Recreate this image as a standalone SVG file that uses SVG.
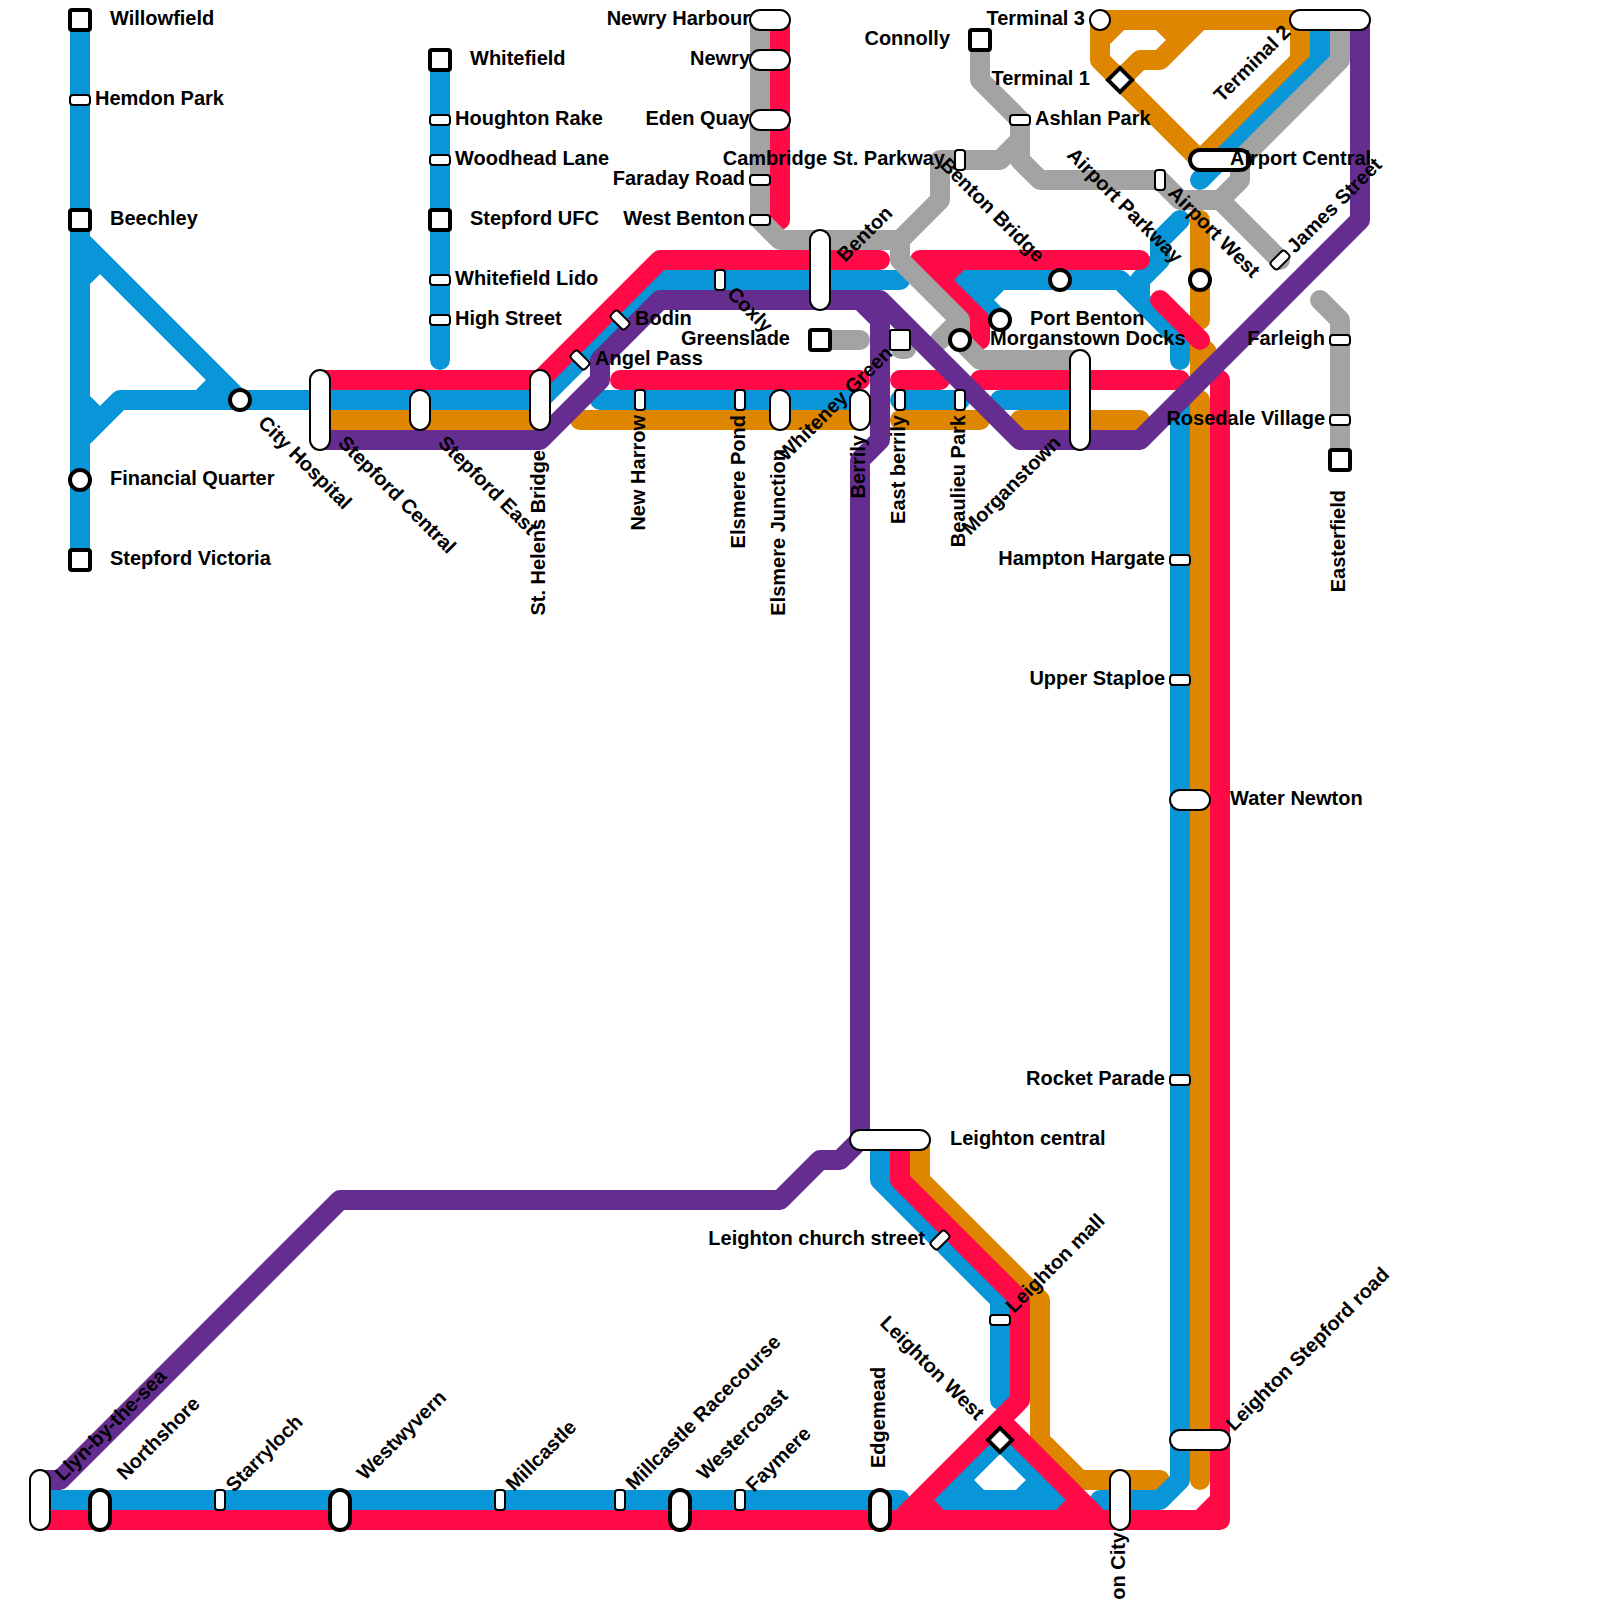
<svg xmlns="http://www.w3.org/2000/svg" width="1600" height="1600" viewBox="0 0 1600 1600">
<style>
.l{fill:none;stroke-width:20;stroke-linecap:round;stroke-linejoin:round}
.o{stroke:#de8600}.b{stroke:#0996d8}.r{stroke:#ff0a47}.g{stroke:#a3a3a3}.p{stroke:#662d91}
.s{fill:#fff;stroke:#000;stroke-width:2}
.t{fill:#fff;stroke:#000;stroke-width:4}
text{font-family:"Liberation Sans",Arial,sans-serif;font-weight:bold;font-size:20px;fill:#000}
.e{text-anchor:end}
</style>
<rect width="1600" height="1600" fill="#fff"/>
<g id="connectors">
<path class="l o" d="M320,420H540M580,420H860M900,420H980M1020,420H1140M1200,400V1480M1200,220V320M1200,340V380M1196,341L1207,352M920,1140V1180L1040,1300V1440L1080,1480H1160M1300,20H1100V60L1200,160L1300,60V20M1100,40L1120,20M1160,20L1180,40M1120,80L1140,60H1160L1200,20"/>
<path class="l b" d="M80,20V560M80,240L240,400H540L660,280H900M80,440L120,400H240M80,280L100,260M80,400L100,420M200,400L220,380M440,60V360M600,400H860M900,400H960M1000,400H1080M960,280H1120L1180,340V360M960,280L1000,320M1000,280L980,300M1180,220L1160,240V260L1140,280V300M1200,180L1320,60V20M1180,400V1480L1160,1500H1100M40,1500H900M880,1140V1180L1000,1300V1400M1000,1440L940,1500H1060L1000,1440M960,1480L980,1500M1040,1480L1020,1500"/>
<path class="l r" d="M320,380H540L660,260H880M780,20V220M620,380H860M900,380H940M980,380H1180M920,260H1140M920,260L980,320V340M960,260L940,280M1160,300L1200,340M1220,380V1520H40M1220,1500L1200,1520M900,1140V1180L1020,1300V1400L900,1520M1000,1420L1100,1520M920,1500L940,1520M1080,1500L1060,1520"/>
<path class="l g" d="M760,20V220L780,240H900L940,200V160H1000L1020,140M980,40V80L1020,120V160L1040,180H1160L1180,200H1220L1240,180V160L1340,60V20M1220,200L1280,260M900,240V260L960,320V340L980,360H1080M960,320L940,340M820,340H860M901,349H906M1320,300L1340,320V460"/>
<path class="l p" d="M320,440H540L600,380V360L660,300H880L1020,440H1140L1360,220V20M860,300L880,320V440L860,460V1140L840,1160H820L780,1200H340L60,1480H40"/>
</g>
<g id="willowfield"><rect class="t" x="70" y="10" width="20" height="20" rx="2"/><text x="110" y="25">Willowfield</text></g>
<g id="hemdon-park"><rect class="s" x="70" y="95" width="20" height="10" rx="3"/><text x="95" y="105">Hemdon Park</text></g>
<g id="beechley"><rect class="t" x="70" y="210" width="20" height="20" rx="2"/><text x="110" y="225">Beechley</text></g>
<g id="financial-quarter"><circle class="t" cx="80" cy="480" r="10"/><text x="110" y="485">Financial Quarter</text></g>
<g id="stepford-victoria"><rect class="t" x="70" y="550" width="20" height="20" rx="2"/><text x="110" y="565">Stepford Victoria</text></g>
<g id="whitefield"><rect class="t" x="430" y="50" width="20" height="20" rx="2"/><text x="470" y="65">Whitefield</text></g>
<g id="houghton-rake"><rect class="s" x="430" y="115" width="20" height="10" rx="3"/><text x="455" y="125">Houghton Rake</text></g>
<g id="woodhead-lane"><rect class="s" x="430" y="155" width="20" height="10" rx="3"/><text x="455" y="165">Woodhead Lane</text></g>
<g id="stepford-ufc"><rect class="t" x="430" y="210" width="20" height="20" rx="2"/><text x="470" y="225">Stepford UFC</text></g>
<g id="whitefield-lido"><rect class="s" x="430" y="275" width="20" height="10" rx="3"/><text x="455" y="285">Whitefield Lido</text></g>
<g id="high-street"><rect class="s" x="430" y="315" width="20" height="10" rx="3"/><text x="455" y="325">High Street</text></g>
<g id="city-hospital"><circle class="t" cx="240" cy="400" r="10"/><text transform="translate(257,424) rotate(45)">City Hospital</text></g>
<g id="stepford-central"><rect class="s" x="310" y="370" width="20" height="80" rx="10"/><text transform="translate(337,444) rotate(45)">Stepford Central</text></g>
<g id="stepford-east"><rect class="s" x="410" y="390" width="20" height="40" rx="10"/><text transform="translate(437,444) rotate(45)">Stepford East</text></g>
<g id="st-helens-bridge"><rect class="s" x="530" y="370" width="20" height="60" rx="10"/><text class="e" transform="translate(545,450) rotate(-90)">St. Helens Bridge</text></g>
<g id="angel-pass"><rect class="s" x="-10" y="-5" width="20" height="10" rx="3" transform="translate(580,360) rotate(45)"/><text x="595" y="365">Angel Pass</text></g>
<g id="bodin"><rect class="s" x="-10" y="-5" width="20" height="10" rx="3" transform="translate(620,320) rotate(45)"/><text x="635" y="325">Bodin</text></g>
<g id="new-harrow"><rect class="s" x="635" y="390" width="10" height="20" rx="3"/><text class="e" transform="translate(645,415) rotate(-90)">New Harrow</text></g>
<g id="coxly"><rect class="s" x="715" y="270" width="10" height="20" rx="3"/><text transform="translate(726,295) rotate(45)">Coxly</text></g>
<g id="elsmere-pond"><rect class="s" x="735" y="390" width="10" height="20" rx="3"/><text class="e" transform="translate(745,415) rotate(-90)">Elsmere Pond</text></g>
<g id="elsmere-junction"><rect class="s" x="770" y="390" width="20" height="40" rx="10"/><text class="e" transform="translate(785,449) rotate(-90)">Elsmere Junction</text></g>
<g id="benton"><rect class="s" x="810" y="230" width="20" height="80" rx="10"/><text transform="translate(845,263) rotate(-45)">Benton</text></g>
<g id="greenslade"><rect class="t" x="810" y="330" width="20" height="20" rx="2"/><text class="e" x="790" y="345">Greenslade</text></g>
<g id="berrily"><rect class="s" x="850" y="390" width="20" height="40" rx="10"/><text class="e" transform="translate(865,435) rotate(-90)">Berrily</text></g>
<g id="whiteney-green"><rect class="s" x="890" y="330" width="20" height="20" rx="2"/><text transform="translate(786,462) rotate(-45)">Whiteney Green</text></g>
<g id="east-berrily"><rect class="s" x="895" y="390" width="10" height="20" rx="3"/><text class="e" transform="translate(905,415) rotate(-90)">East berrily</text></g>
<g id="beaulieu-park"><rect class="s" x="955" y="390" width="10" height="20" rx="3"/><text class="e" transform="translate(965,415) rotate(-90)">Beaulieu Park</text></g>
<g id="morganstown-docks"><circle class="t" cx="960" cy="340" r="10"/><text x="990" y="345">Morganstown Docks</text></g>
<g id="port-benton"><circle class="t" cx="1000" cy="320" r="10"/><text x="1030" y="325">Port Benton</text></g>
<g id="benton-bridge"><circle class="t" cx="1060" cy="280" r="10"/><text transform="translate(939,166) rotate(45)">Benton Bridge</text></g>
<g id="morganstown"><rect class="s" x="1070" y="350" width="20" height="100" rx="10"/><text transform="translate(970,536) rotate(-45)">Morganstown</text></g>
<g id="newry-harbour"><rect class="s" x="750" y="10" width="40" height="20" rx="10"/><text class="e" x="750" y="25">Newry Harbour</text></g>
<g id="newry"><rect class="s" x="750" y="50" width="40" height="20" rx="10"/><text class="e" x="750" y="65">Newry</text></g>
<g id="eden-quay"><rect class="s" x="750" y="110" width="40" height="20" rx="10"/><text class="e" x="750" y="125">Eden Quay</text></g>
<g id="faraday-road"><rect class="s" x="750" y="175" width="20" height="10" rx="3"/><text class="e" x="745" y="185">Faraday Road</text></g>
<g id="west-benton"><rect class="s" x="750" y="215" width="20" height="10" rx="3"/><text class="e" x="745" y="225">West Benton</text></g>
<g id="connolly"><rect class="t" x="970" y="30" width="20" height="20" rx="2"/><text class="e" x="950" y="45">Connolly</text></g>
<g id="ashlan-park"><rect class="s" x="1010" y="115" width="20" height="10" rx="3"/><text x="1035" y="125">Ashlan Park</text></g>
<g id="cambridge-st-parkway"><rect class="s" x="955" y="150" width="10" height="20" rx="3"/><text class="e" x="945" y="165">Cambridge St. Parkway</text></g>
<g id="airport-parkway"><rect class="s" x="1155" y="170" width="10" height="20" rx="3"/><text transform="translate(1066,156) rotate(45)">Airport Parkway</text></g>
<g id="airport-west"><circle class="t" cx="1200" cy="280" r="10"/><text transform="translate(1167,194) rotate(45)">Airport West</text></g>
<g id="terminal-3"><circle class="s" cx="1100" cy="20" r="10"/><text class="e" x="1085" y="25">Terminal 3</text></g>
<g id="terminal-1"><rect class="t" x="-8.500" y="-8.500" width="17" height="17" transform="translate(1120,80) rotate(45)"/><text class="e" x="1090" y="85">Terminal 1</text></g>
<g id="terminal-2"><rect class="s" x="1290" y="10" width="80" height="20" rx="10"/><text transform="translate(1222,103) rotate(-45)">Terminal 2</text></g>
<g id="airport-central"><rect class="t" x="1190" y="150" width="60" height="20" rx="10"/><text x="1230" y="165">Airport Central</text></g>
<g id="james-street"><rect class="s" x="-10" y="-5" width="20" height="10" rx="3" transform="translate(1280,260) rotate(-45)"/><text transform="translate(1295,254) rotate(-45)">James Street</text></g>
<g id="farleigh"><rect class="s" x="1330" y="335" width="20" height="10" rx="3"/><text class="e" x="1325" y="345">Farleigh</text></g>
<g id="rosedale-village"><rect class="s" x="1330" y="415" width="20" height="10" rx="3"/><text class="e" x="1325" y="425">Rosedale Village</text></g>
<g id="easterfield"><rect class="t" x="1330" y="450" width="20" height="20" rx="2"/><text class="e" transform="translate(1345,490) rotate(-90)">Easterfield</text></g>
<g id="hampton-hargate"><rect class="s" x="1170" y="555" width="20" height="10" rx="3"/><text class="e" x="1165" y="565">Hampton Hargate</text></g>
<g id="upper-staploe"><rect class="s" x="1170" y="675" width="20" height="10" rx="3"/><text class="e" x="1165" y="685">Upper Staploe</text></g>
<g id="water-newton"><rect class="s" x="1170" y="790" width="40" height="20" rx="10"/><text x="1230" y="805">Water Newton</text></g>
<g id="rocket-parade"><rect class="s" x="1170" y="1075" width="20" height="10" rx="3"/><text class="e" x="1165" y="1085">Rocket Parade</text></g>
<g id="leighton-central"><rect class="s" x="850" y="1130" width="80" height="20" rx="10"/><text x="950" y="1145">Leighton central</text></g>
<g id="leighton-church-street"><rect class="s" x="-10" y="-5" width="20" height="10" rx="3" transform="translate(940,1240) rotate(-45)"/><text class="e" x="925" y="1245">Leighton church street</text></g>
<g id="leighton-mall"><rect class="s" x="990" y="1315" width="20" height="10" rx="3"/><text transform="translate(1014,1314) rotate(-45)">Leighton mall</text></g>
<g id="leighton-west"><rect class="t" x="-8.500" y="-8.500" width="17" height="17" transform="translate(1000,1440) rotate(45)"/><text transform="translate(879,1324) rotate(45)">Leighton West</text></g>
<g id="leighton-stepford-road"><rect class="s" x="1170" y="1430" width="60" height="20" rx="10"/><text transform="translate(1234,1432) rotate(-45)">Leighton Stepford road</text></g>
<g id="leighton-city"><rect class="s" x="1110" y="1470" width="20" height="60" rx="10"/><text class="e" transform="translate(1125,1532) rotate(-90)">Leighton City</text></g>
<g id="edgemead"><rect class="t" x="870" y="1490" width="20" height="40" rx="10"/><text transform="translate(885,1468) rotate(-90)">Edgemead</text></g>
<g id="llyn-by-the-sea"><rect class="s" x="30" y="1470" width="20" height="60" rx="10"/><text transform="translate(63,1482) rotate(-45)">Llyn-by-the-sea</text></g>
<g id="northshore"><rect class="t" x="90" y="1490" width="20" height="40" rx="10"/><text transform="translate(125,1481) rotate(-45)">Northshore</text></g>
<g id="starryloch"><rect class="s" x="215" y="1490" width="10" height="20" rx="3"/><text transform="translate(234,1493) rotate(-45)">Starryloch</text></g>
<g id="westwyvern"><rect class="t" x="330" y="1490" width="20" height="40" rx="10"/><text transform="translate(365,1481) rotate(-45)">Westwyvern</text></g>
<g id="millcastle"><rect class="s" x="495" y="1490" width="10" height="20" rx="3"/><text transform="translate(514,1492) rotate(-45)">Millcastle</text></g>
<g id="millcastle-racecourse"><rect class="s" x="615" y="1490" width="10" height="20" rx="3"/><text transform="translate(634,1491) rotate(-45)">Millcastle Racecourse</text></g>
<g id="westercoast"><rect class="t" x="670" y="1490" width="20" height="40" rx="10"/><text transform="translate(705,1481) rotate(-45)">Westercoast</text></g>
<g id="faymere"><rect class="s" x="735" y="1490" width="10" height="20" rx="3"/><text transform="translate(754,1493) rotate(-45)">Faymere</text></g>
</svg>
